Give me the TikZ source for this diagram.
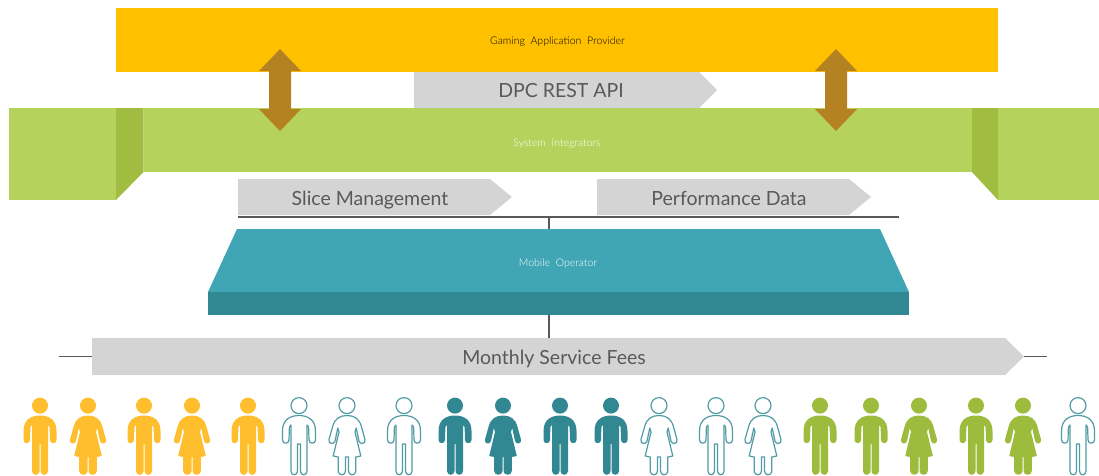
\documentclass[tikz,border=0pt]{standalone}
\usepackage{fontspec}
\setmainfont{Lato}
\newfontfamily\lightfont{Lato Light}
\definecolor{amber}{HTML}{FFC000}
\definecolor{leaf}{HTML}{B5D25C}
\definecolor{leafdark}{HTML}{A0BC41}
\definecolor{teal1}{HTML}{40A6B5}
\definecolor{teal2}{HTML}{328892}
\definecolor{bronze}{HTML}{B48220}
\definecolor{band}{HTML}{D4D4D4}
\definecolor{labelgrey}{HTML}{595959}
\definecolor{pyellow}{HTML}{FFBE2E}
\definecolor{pgreen}{HTML}{9DBB3D}
\definecolor{pline}{HTML}{4F9CA5}
\tikzset{
 bandlabel/.style={anchor=base,text=labelgrey,font=\fontsize{19.5}{22}\selectfont,inner sep=0pt},
 smalllabel/.style={anchor=base,font=\lightfont\fontsize{10.5}{12}\selectfont,inner sep=0pt},
 rule/.style={draw=labelgrey,line width=1.1pt},
 ffig/.style={fill=#1,draw=none},
 ofig/.style={fill=white,draw=pline,line width=1.2pt},
}
% cx, style, gap
\newcommand{\manfig}[3]{%
 \begin{scope}[shift={(#1,0)}]
  \path[#2] (0,405.6) circle[radius=8];
  \path[#2,line join=round] (0,415.5)
   .. controls (8,415.5) and (16.5,419) .. (16.5,431) -- (16.5,440)
   .. controls (16.5,444.2) and (10,444.2) .. (10,440) -- (9.6,427) -- (8,425)
   -- (8,471) .. controls (8,476) and (#3/2,476) .. (#3/2,471) -- (#3/2,444) -- (-#3/2,444) -- (-#3/2,471)
   .. controls (-#3/2,476) and (-8,476) .. (-8,471) -- (-8,425) -- (-9.6,427)
   -- (-10,440) .. controls (-10,444.2) and (-16.5,444.2) .. (-16.5,440) -- (-16.5,431)
   .. controls (-16.5,419) and (-8,415.5) .. (0,415.5) -- cycle;
 \end{scope}}
\newcommand{\womanfig}[3]{%
 \begin{scope}[shift={(#1,0)}]
  \path[#2] (0,405.6) circle[radius=8];
  \path[#2,line join=round] (0,415.5)
   .. controls (7,415.5) and (12.5,418.5) .. (14.5,427) -- (18,439.5)
   .. controls (19,444) and (13,445) .. (12,441) -- (9.2,428) -- (8,432) -- (13.8,456)
   -- (8.8,457) -- (8.8,471) .. controls (8.8,476) and (#3/2,476) .. (#3/2,471) -- (#3/2,457) -- (-#3/2,457) -- (-#3/2,471)
   .. controls (-#3/2,476) and (-8.8,476) .. (-8.8,471) -- (-8.8,457) -- (-13.8,456) -- (-8,432) -- (-9.2,428)
   -- (-12,441) .. controls (-13,445) and (-19,444) .. (-18,439.5) -- (-14.5,427)
   .. controls (-12.5,418.5) and (-7,415.5) .. (0,415.5) -- cycle;
 \end{scope}}
\newcommand{\bandshape}[6]{% name, left, right, base, top, bottom
 \fill[band] (#2,#5) -- (#4,#5) -- (#3,{(#5+#6)/2}) -- (#4,#6) -- (#2,#6) -- cycle;
 \coordinate (#1W) at (#2,{(#5+#6)/2});
 \coordinate (#1E) at (#3,{(#5+#6)/2});}
\newcommand{\updown}[2]{% name, cx
 \fill[bronze] (#2,49) -- (#2+21,71) -- (#2+11,71) -- (#2+11,109) -- (#2+21,109) -- (#2,131)
  -- (#2-21,109) -- (#2-11,109) -- (#2-11,71) -- (#2-21,71) -- cycle;
 \coordinate (#1) at (#2,90);}
\begin{document}
\begin{tikzpicture}[x=1pt,y=-1pt]
\useasboundingbox (0,0) rectangle (1099,475);
\clip (0,0) rectangle (1099,475);
% provider
\fill[amber] (116,8) rectangle (998,72);
\node[smalllabel,text=black] (provider) at (557.5,44) {Gaming\ \ Application\ \ Provider};
% integrators
\fill[leaf] (144,108) rectangle (972,172);
\fill[leaf] (9,108) rectangle (116,200);
\fill[leaf] (998,108) rectangle (1099,200);
\fill[leafdark] (116,108) -- (143.5,108) -- (143.5,172) -- (116,200) -- cycle;
\fill[leafdark] (972,108) -- (998,108) -- (998,200) -- (972,172) -- cycle;
\node[smalllabel,text=white] (integrators) at (557,146) {System\ \ Integrators};
% bands
\bandshape{dpc}{414}{717}{699}{72}{108}
\node[bandlabel] (dpclabel) at (561,97.5) {DPC REST API};
\updown{arrowL}{280}
\updown{arrowR}{836}
\bandshape{slice}{238}{512}{490}{179}{215}
\node[bandlabel] (slicelabel) at (370,205) {Slice Management};
\bandshape{perf}{597}{871}{849}{179}{215}
\node[bandlabel] (perflabel) at (729,205) {Performance\ Data};
% operator
\fill[teal1] (237,229) -- (880,229) -- (909,292) -- (208,292) -- cycle;
\fill[teal2] (208,292) rectangle (909,315);
\node[smalllabel,text=white] (operator) at (558,266) {Mobile\ \ Operator};
\coordinate (opTop) at (549,229);
\coordinate (opBottom) at (549,315);
\coordinate (railL) at (238,217);
\coordinate (railR) at (899,217);
\coordinate (railM) at (549,217);
\draw[rule] (railL) -- (railR);
\draw[rule] (railM) -- (opTop);
% fees
\bandshape{fees}{92}{1024}{1005}{338}{375}
\node[bandlabel] (feeslabel) at (554,364) {Monthly Service Fees};
\coordinate (feesTop) at (549,338);
\coordinate (stubL) at (59,356.5);
\coordinate (stubR) at (1047,356.5);
\draw[rule] (opBottom) -- (feesTop);
\draw[rule,line width=0.9pt] (stubL) -- (feesW);
\draw[rule,line width=0.9pt] (feesE) -- (stubR);
% people
\manfig{40}{ffig=pyellow}{1}
\womanfig{88}{ffig=pyellow}{1}
\manfig{144}{ffig=pyellow}{1}
\womanfig{192}{ffig=pyellow}{1}
\manfig{248}{ffig=pyellow}{1}
\manfig{299}{ofig}{3}
\womanfig{347}{ofig}{3}
\manfig{404}{ofig}{3}
\manfig{455}{ffig=teal2}{1}
\womanfig{503}{ffig=teal2}{1}
\manfig{560}{ffig=teal2}{1}
\manfig{611}{ffig=teal2}{1}
\womanfig{659}{ofig}{3}
\manfig{716}{ofig}{3}
\womanfig{763}{ofig}{3}
\manfig{820}{ffig=pgreen}{1}
\manfig{871}{ffig=pgreen}{1}
\womanfig{919}{ffig=pgreen}{1}
\manfig{976}{ffig=pgreen}{1}
\womanfig{1023}{ffig=pgreen}{1}
\manfig{1078}{ofig}{3}
\end{tikzpicture}
\end{document}
